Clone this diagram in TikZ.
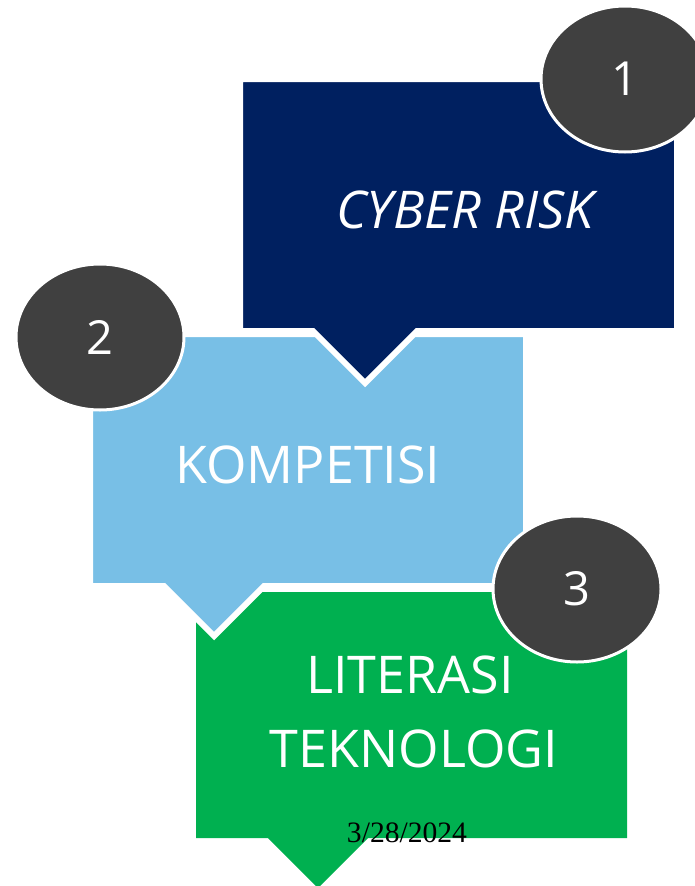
\documentclass[tikz,border=0pt]{standalone}
\usepackage{fontspec}
\setmainfont{Liberation Serif}
\newfontfamily\calloutfont{Open Sans}
\usetikzlibrary{shapes.geometric}
\definecolor{riskblue}{RGB}{0,32,96}
\definecolor{skyblue}{RGB}{120,191,230}
\definecolor{techgreen}{RGB}{0,176,80}
\definecolor{badgegray}{RGB}{64,64,64}
\begin{document}
\begin{tikzpicture}[x=1pt,y=-1pt,
  callout/.style={draw=white,line width=6pt,line join=miter},
  badge/.style={ellipse,fill=badgegray,draw=white,line width=3pt,minimum width=168pt,minimum height=146pt,
    inner sep=0pt,text=white,font=\calloutfont\fontsize{47}{47}\selectfont},
  label/.style={text=white,anchor=base,inner sep=0pt,font=\calloutfont\fontsize{52}{52}\selectfont}]
\useasboundingbox (0,0) rectangle (695,886);
% callout shapes, back to front
\fill[techgreen](196,592)--(627,592)--(627,838)--(368,838)--(318,888)--(268,838)--(196,838)--cycle;
\filldraw[callout,fill=skyblue](90,334)--(526,334)--(526,586)--(264,586)--(214,636)--(164,586)--(90,586)--cycle;
\filldraw[callout,fill=riskblue](240,79)--(677,79)--(677,331)--(417,331)--(365,383)--(313,331)--(240,331)--cycle;
% texts
\node[label,font=\calloutfont\itshape\fontsize{52}{52}\selectfont](cyber) at (465,228){CYBER RISK};
\node[label](kompetisi) at (308,483){KOMPETISI};
\node[label](literasi) at (410,693){LITERASI};
\node[label](teknologi) at (414,767){TEKNOLOGI};
\node[anchor=base,inner sep=0pt,font=\fontsize{29.6}{30}\selectfont](date) at (407,842){3/28/2024};
% number badges
\node[badge](one) at (625,79){1};
\node[badge](two) at (100,337){2};
\node[badge](three) at (577,589){3};
\end{tikzpicture}
\end{document}
